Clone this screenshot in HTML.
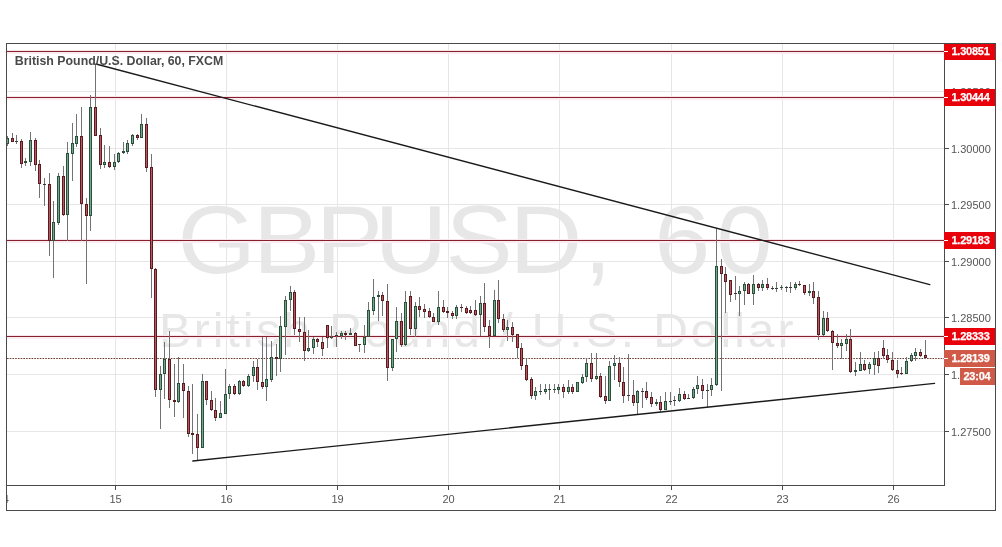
<!DOCTYPE html>
<html><head><meta charset="utf-8"><title>GBPUSD, 60</title>
<style>
html,body{margin:0;padding:0;background:#fff;width:1002px;height:547px;overflow:hidden;}
svg{display:block;}
</style></head><body>
<svg width="1002" height="547" viewBox="0 0 1002 547"><rect x="0" y="0" width="1002" height="547" fill="#ffffff"/><defs><clipPath id="pane"><rect x="7" y="44" width="937" height="441"/></clipPath></defs><g clip-path="url(#pane)"><text x="169.03 240.87 300.77 356.58 424.25 485.32 555.99 582.66 623.12 682.40" y="273.5" transform="scale(1.05,1)" font-family="Liberation Sans, Arial, sans-serif" font-size="96" fill="#e7e7e7">GBPUSD, 60</text><text x="158.9" y="347" font-family="Liberation Sans, Arial, sans-serif" font-size="48" fill="#e7e7e7" style="letter-spacing:2.96px">British Pound / U.S. Dollar</text><g shape-rendering="crispEdges"><rect x="115" y="44" width="1" height="441" fill="#e6e6e6"/><rect x="226" y="44" width="1" height="441" fill="#e6e6e6"/><rect x="337" y="44" width="1" height="441" fill="#e6e6e6"/><rect x="448" y="44" width="1" height="441" fill="#e6e6e6"/><rect x="559" y="44" width="1" height="441" fill="#e6e6e6"/><rect x="671" y="44" width="1" height="441" fill="#e6e6e6"/><rect x="782" y="44" width="1" height="441" fill="#e6e6e6"/><rect x="893" y="44" width="1" height="441" fill="#e6e6e6"/><rect x="7" y="91" width="937" height="1" fill="#e6e6e6"/><rect x="7" y="148" width="937" height="1" fill="#e6e6e6"/><rect x="7" y="204" width="937" height="1" fill="#e6e6e6"/><rect x="7" y="261" width="937" height="1" fill="#e6e6e6"/><rect x="7" y="317" width="937" height="1" fill="#e6e6e6"/><rect x="7" y="374" width="937" height="1" fill="#e6e6e6"/><rect x="7" y="431" width="937" height="1" fill="#e6e6e6"/></g><g shape-rendering="crispEdges"><rect x="7" y="50" width="937" height="1" fill="#f8e6e9"/><rect x="7" y="52" width="937" height="2" fill="#fbecef"/><rect x="7" y="51" width="937" height="1" fill="#86202f"/><rect x="7" y="96" width="937" height="1" fill="#f8e6e9"/><rect x="7" y="98" width="937" height="2" fill="#fbecef"/><rect x="7" y="97" width="937" height="1" fill="#86202f"/><rect x="7" y="239" width="937" height="1" fill="#f8e6e9"/><rect x="7" y="241" width="937" height="2" fill="#fbecef"/><rect x="7" y="240" width="937" height="1" fill="#86202f"/><rect x="7" y="335" width="937" height="1" fill="#f8e6e9"/><rect x="7" y="337" width="937" height="2" fill="#fbecef"/><rect x="7" y="336" width="937" height="1" fill="#86202f"/></g><line x1="7" y1="358.5" x2="944" y2="358.5" stroke="#6c3e33" stroke-width="1.1" stroke-dasharray="1.6 1.13"/><g shape-rendering="crispEdges"><rect x="7" y="136" width="1" height="10" fill="#737375"/><rect x="12" y="133" width="1" height="9" fill="#737375"/><rect x="16" y="135" width="1" height="9" fill="#737375"/><rect x="21" y="139" width="1" height="29" fill="#737375"/><rect x="25" y="158" width="1" height="8" fill="#737375"/><rect x="30" y="132" width="1" height="34" fill="#737375"/><rect x="35" y="138" width="1" height="33" fill="#737375"/><rect x="39" y="160" width="1" height="38" fill="#737375"/><rect x="44" y="178" width="1" height="28" fill="#737375"/><rect x="49" y="173" width="1" height="83" fill="#737375"/><rect x="53" y="201" width="1" height="77" fill="#737375"/><rect x="58" y="173" width="1" height="52" fill="#737375"/><rect x="63" y="166" width="1" height="50" fill="#737375"/><rect x="67" y="142" width="1" height="99" fill="#737375"/><rect x="72" y="123" width="1" height="58" fill="#737375"/><rect x="76" y="114" width="1" height="33" fill="#737375"/><rect x="81" y="107" width="1" height="134" fill="#737375"/><rect x="86" y="198" width="1" height="86" fill="#737375"/><rect x="90" y="95" width="1" height="136" fill="#737375"/><rect x="95" y="64" width="1" height="72" fill="#737375"/><rect x="100" y="128" width="1" height="41" fill="#737375"/><rect x="104" y="145" width="1" height="23" fill="#737375"/><rect x="109" y="146" width="1" height="22" fill="#737375"/><rect x="114" y="154" width="1" height="16" fill="#737375"/><rect x="118" y="152" width="1" height="11" fill="#737375"/><rect x="123" y="142" width="1" height="12" fill="#737375"/><rect x="127" y="140" width="1" height="14" fill="#737375"/><rect x="132" y="134" width="1" height="12" fill="#737375"/><rect x="137" y="134" width="1" height="6" fill="#737375"/><rect x="141" y="114" width="1" height="24" fill="#737375"/><rect x="146" y="118" width="1" height="54" fill="#737375"/><rect x="151" y="154" width="1" height="144" fill="#737375"/><rect x="155" y="268" width="1" height="129" fill="#737375"/><rect x="160" y="366" width="1" height="63" fill="#737375"/><rect x="164" y="342" width="1" height="57" fill="#737375"/><rect x="169" y="331" width="1" height="77" fill="#737375"/><rect x="174" y="364" width="1" height="53" fill="#737375"/><rect x="178" y="357" width="1" height="46" fill="#737375"/><rect x="183" y="364" width="1" height="54" fill="#737375"/><rect x="188" y="386" width="1" height="51" fill="#737375"/><rect x="192" y="384" width="1" height="70" fill="#737375"/><rect x="197" y="414" width="1" height="46" fill="#737375"/><rect x="202" y="374" width="1" height="74" fill="#737375"/><rect x="206" y="381" width="1" height="24" fill="#737375"/><rect x="211" y="391" width="1" height="20" fill="#737375"/><rect x="215" y="398" width="1" height="23" fill="#737375"/><rect x="220" y="401" width="1" height="17" fill="#737375"/><rect x="225" y="369" width="1" height="45" fill="#737375"/><rect x="229" y="384" width="1" height="15" fill="#737375"/><rect x="234" y="384" width="1" height="11" fill="#737375"/><rect x="239" y="380" width="1" height="15" fill="#737375"/><rect x="243" y="380" width="1" height="7" fill="#737375"/><rect x="248" y="374" width="1" height="13" fill="#737375"/><rect x="253" y="361" width="1" height="21" fill="#737375"/><rect x="257" y="359" width="1" height="31" fill="#737375"/><rect x="262" y="337" width="1" height="52" fill="#737375"/><rect x="266" y="337" width="1" height="64" fill="#737375"/><rect x="271" y="341" width="1" height="41" fill="#737375"/><rect x="276" y="344" width="1" height="32" fill="#737375"/><rect x="280" y="316" width="1" height="56" fill="#737375"/><rect x="285" y="296" width="1" height="59" fill="#737375"/><rect x="290" y="286" width="1" height="25" fill="#737375"/><rect x="294" y="290" width="1" height="45" fill="#737375"/><rect x="299" y="317" width="1" height="25" fill="#737375"/><rect x="304" y="317" width="1" height="44" fill="#737375"/><rect x="308" y="330" width="1" height="22" fill="#737375"/><rect x="313" y="337" width="1" height="17" fill="#737375"/><rect x="317" y="338" width="1" height="9" fill="#737375"/><rect x="322" y="337" width="1" height="19" fill="#737375"/><rect x="327" y="325" width="1" height="23" fill="#737375"/><rect x="331" y="326" width="1" height="13" fill="#737375"/><rect x="336" y="332" width="1" height="15" fill="#737375"/><rect x="341" y="331" width="1" height="8" fill="#737375"/><rect x="345" y="331" width="1" height="9" fill="#737375"/><rect x="350" y="328" width="1" height="7" fill="#737375"/><rect x="355" y="332" width="1" height="14" fill="#737375"/><rect x="359" y="344" width="1" height="8" fill="#737375"/><rect x="364" y="325" width="1" height="28" fill="#737375"/><rect x="368" y="302" width="1" height="35" fill="#737375"/><rect x="373" y="279" width="1" height="36" fill="#737375"/><rect x="378" y="291" width="1" height="30" fill="#737375"/><rect x="382" y="292" width="1" height="24" fill="#737375"/><rect x="387" y="284" width="1" height="97" fill="#737375"/><rect x="392" y="339" width="1" height="32" fill="#737375"/><rect x="396" y="307" width="1" height="45" fill="#737375"/><rect x="401" y="313" width="1" height="34" fill="#737375"/><rect x="405" y="291" width="1" height="55" fill="#737375"/><rect x="410" y="291" width="1" height="44" fill="#737375"/><rect x="415" y="302" width="1" height="35" fill="#737375"/><rect x="419" y="297" width="1" height="20" fill="#737375"/><rect x="424" y="304" width="1" height="14" fill="#737375"/><rect x="429" y="308" width="1" height="10" fill="#737375"/><rect x="433" y="313" width="1" height="9" fill="#737375"/><rect x="438" y="291" width="1" height="34" fill="#737375"/><rect x="443" y="300" width="1" height="13" fill="#737375"/><rect x="447" y="307" width="1" height="11" fill="#737375"/><rect x="452" y="311" width="1" height="8" fill="#737375"/><rect x="456" y="305" width="1" height="14" fill="#737375"/><rect x="461" y="304" width="1" height="8" fill="#737375"/><rect x="466" y="306" width="1" height="8" fill="#737375"/><rect x="470" y="306" width="1" height="8" fill="#737375"/><rect x="475" y="300" width="1" height="16" fill="#737375"/><rect x="480" y="296" width="1" height="40" fill="#737375"/><rect x="484" y="283" width="1" height="49" fill="#737375"/><rect x="489" y="320" width="1" height="28" fill="#737375"/><rect x="494" y="290" width="1" height="46" fill="#737375"/><rect x="498" y="280" width="1" height="43" fill="#737375"/><rect x="503" y="314" width="1" height="18" fill="#737375"/><rect x="507" y="320" width="1" height="21" fill="#737375"/><rect x="512" y="322" width="1" height="20" fill="#737375"/><rect x="517" y="334" width="1" height="24" fill="#737375"/><rect x="521" y="343" width="1" height="27" fill="#737375"/><rect x="526" y="358" width="1" height="23" fill="#737375"/><rect x="531" y="377" width="1" height="22" fill="#737375"/><rect x="535" y="387" width="1" height="13" fill="#737375"/><rect x="540" y="384" width="1" height="11" fill="#737375"/><rect x="545" y="384" width="1" height="10" fill="#737375"/><rect x="549" y="384" width="1" height="16" fill="#737375"/><rect x="554" y="384" width="1" height="9" fill="#737375"/><rect x="558" y="384" width="1" height="10" fill="#737375"/><rect x="563" y="384" width="1" height="14" fill="#737375"/><rect x="568" y="380" width="1" height="14" fill="#737375"/><rect x="572" y="384" width="1" height="10" fill="#737375"/><rect x="577" y="382" width="1" height="10" fill="#737375"/><rect x="582" y="374" width="1" height="10" fill="#737375"/><rect x="586" y="358" width="1" height="24" fill="#737375"/><rect x="591" y="353" width="1" height="29" fill="#737375"/><rect x="596" y="353" width="1" height="27" fill="#737375"/><rect x="600" y="373" width="1" height="25" fill="#737375"/><rect x="605" y="376" width="1" height="28" fill="#737375"/><rect x="609" y="361" width="1" height="40" fill="#737375"/><rect x="614" y="355" width="1" height="25" fill="#737375"/><rect x="619" y="357" width="1" height="30" fill="#737375"/><rect x="623" y="367" width="1" height="36" fill="#737375"/><rect x="628" y="354" width="1" height="47" fill="#737375"/><rect x="633" y="380" width="1" height="26" fill="#737375"/><rect x="637" y="390" width="1" height="25" fill="#737375"/><rect x="642" y="388" width="1" height="20" fill="#737375"/><rect x="646" y="382" width="1" height="18" fill="#737375"/><rect x="651" y="392" width="1" height="15" fill="#737375"/><rect x="656" y="399" width="1" height="7" fill="#737375"/><rect x="660" y="396" width="1" height="16" fill="#737375"/><rect x="665" y="392" width="1" height="18" fill="#737375"/><rect x="670" y="392" width="1" height="13" fill="#737375"/><rect x="674" y="396" width="1" height="10" fill="#737375"/><rect x="679" y="388" width="1" height="14" fill="#737375"/><rect x="684" y="391" width="1" height="9" fill="#737375"/><rect x="688" y="394" width="1" height="5" fill="#737375"/><rect x="693" y="387" width="1" height="12" fill="#737375"/><rect x="697" y="376" width="1" height="18" fill="#737375"/><rect x="702" y="379" width="1" height="20" fill="#737375"/><rect x="707" y="384" width="1" height="23" fill="#737375"/><rect x="711" y="378" width="1" height="18" fill="#737375"/><rect x="716" y="229" width="1" height="157" fill="#737375"/><rect x="721" y="259" width="1" height="132" fill="#737375"/><rect x="725" y="267" width="1" height="46" fill="#737375"/><rect x="730" y="280" width="1" height="22" fill="#737375"/><rect x="735" y="276" width="1" height="24" fill="#737375"/><rect x="739" y="286" width="1" height="30" fill="#737375"/><rect x="744" y="282" width="1" height="23" fill="#737375"/><rect x="748" y="283" width="1" height="11" fill="#737375"/><rect x="753" y="275" width="1" height="30" fill="#737375"/><rect x="758" y="283" width="1" height="8" fill="#737375"/><rect x="762" y="280" width="1" height="11" fill="#737375"/><rect x="767" y="278" width="1" height="12" fill="#737375"/><rect x="772" y="286" width="1" height="4" fill="#737375"/><rect x="776" y="282" width="1" height="10" fill="#737375"/><rect x="781" y="285" width="1" height="5" fill="#737375"/><rect x="786" y="286" width="1" height="6" fill="#737375"/><rect x="790" y="282" width="1" height="11" fill="#737375"/><rect x="795" y="282" width="1" height="8" fill="#737375"/><rect x="799" y="281" width="1" height="5" fill="#737375"/><rect x="804" y="285" width="1" height="10" fill="#737375"/><rect x="809" y="284" width="1" height="12" fill="#737375"/><rect x="813" y="282" width="1" height="22" fill="#737375"/><rect x="818" y="291" width="1" height="49" fill="#737375"/><rect x="823" y="311" width="1" height="25" fill="#737375"/><rect x="827" y="312" width="1" height="20" fill="#737375"/><rect x="832" y="330" width="1" height="40" fill="#737375"/><rect x="837" y="334" width="1" height="14" fill="#737375"/><rect x="841" y="339" width="1" height="20" fill="#737375"/><rect x="846" y="334" width="1" height="17" fill="#737375"/><rect x="850" y="329" width="1" height="44" fill="#737375"/><rect x="855" y="362" width="1" height="14" fill="#737375"/><rect x="860" y="352" width="1" height="19" fill="#737375"/><rect x="864" y="360" width="1" height="11" fill="#737375"/><rect x="869" y="362" width="1" height="12" fill="#737375"/><rect x="874" y="352" width="1" height="23" fill="#737375"/><rect x="878" y="351" width="1" height="22" fill="#737375"/><rect x="883" y="340" width="1" height="18" fill="#737375"/><rect x="887" y="349" width="1" height="14" fill="#737375"/><rect x="892" y="352" width="1" height="19" fill="#737375"/><rect x="897" y="360" width="1" height="18" fill="#737375"/><rect x="901" y="367" width="1" height="8" fill="#737375"/><rect x="906" y="357" width="1" height="17" fill="#737375"/><rect x="911" y="353" width="1" height="9" fill="#737375"/><rect x="915" y="348" width="1" height="13" fill="#737375"/><rect x="920" y="349" width="1" height="8" fill="#737375"/><rect x="925" y="340" width="1" height="19" fill="#737375"/><rect x="6" y="138" width="3" height="6" fill="#29503b"/><rect x="7" y="139" width="1" height="4" fill="#7aa58d"/><rect x="11" y="138" width="3" height="4" fill="#5a1a1e"/><rect x="12" y="139" width="1" height="2" fill="#b35a62"/><rect x="15" y="141" width="3" height="1" fill="#3a3a3a"/><rect x="20" y="141" width="3" height="23" fill="#5a1a1e"/><rect x="21" y="142" width="1" height="21" fill="#b35a62"/><rect x="24" y="161" width="3" height="2" fill="#29503b"/><rect x="29" y="140" width="3" height="22" fill="#29503b"/><rect x="30" y="141" width="1" height="20" fill="#7aa58d"/><rect x="34" y="140" width="3" height="25" fill="#5a1a1e"/><rect x="35" y="141" width="1" height="23" fill="#b35a62"/><rect x="38" y="164" width="3" height="20" fill="#5a1a1e"/><rect x="39" y="165" width="1" height="18" fill="#b35a62"/><rect x="43" y="184" width="3" height="1" fill="#3a3a3a"/><rect x="48" y="184" width="3" height="57" fill="#5a1a1e"/><rect x="49" y="185" width="1" height="55" fill="#b35a62"/><rect x="52" y="222" width="3" height="19" fill="#29503b"/><rect x="53" y="223" width="1" height="17" fill="#7aa58d"/><rect x="57" y="176" width="3" height="47" fill="#29503b"/><rect x="58" y="177" width="1" height="45" fill="#7aa58d"/><rect x="62" y="176" width="3" height="39" fill="#5a1a1e"/><rect x="63" y="177" width="1" height="37" fill="#b35a62"/><rect x="66" y="153" width="3" height="62" fill="#29503b"/><rect x="67" y="154" width="1" height="60" fill="#7aa58d"/><rect x="71" y="143" width="3" height="11" fill="#29503b"/><rect x="72" y="144" width="1" height="9" fill="#7aa58d"/><rect x="75" y="136" width="3" height="8" fill="#29503b"/><rect x="76" y="137" width="1" height="6" fill="#7aa58d"/><rect x="80" y="136" width="3" height="68" fill="#5a1a1e"/><rect x="81" y="137" width="1" height="66" fill="#b35a62"/><rect x="85" y="204" width="3" height="12" fill="#5a1a1e"/><rect x="86" y="205" width="1" height="10" fill="#b35a62"/><rect x="89" y="107" width="3" height="109" fill="#29503b"/><rect x="90" y="108" width="1" height="107" fill="#7aa58d"/><rect x="94" y="107" width="3" height="29" fill="#5a1a1e"/><rect x="95" y="108" width="1" height="27" fill="#b35a62"/><rect x="99" y="135" width="3" height="30" fill="#5a1a1e"/><rect x="100" y="136" width="1" height="28" fill="#b35a62"/><rect x="103" y="162" width="3" height="3" fill="#29503b"/><rect x="104" y="163" width="1" height="1" fill="#7aa58d"/><rect x="108" y="162" width="3" height="5" fill="#5a1a1e"/><rect x="109" y="163" width="1" height="3" fill="#b35a62"/><rect x="113" y="162" width="3" height="5" fill="#29503b"/><rect x="114" y="163" width="1" height="3" fill="#7aa58d"/><rect x="117" y="153" width="3" height="9" fill="#29503b"/><rect x="118" y="154" width="1" height="7" fill="#7aa58d"/><rect x="122" y="151" width="3" height="2" fill="#29503b"/><rect x="126" y="143" width="3" height="9" fill="#29503b"/><rect x="127" y="144" width="1" height="7" fill="#7aa58d"/><rect x="131" y="135" width="3" height="9" fill="#29503b"/><rect x="132" y="136" width="1" height="7" fill="#7aa58d"/><rect x="136" y="135" width="3" height="3" fill="#5a1a1e"/><rect x="137" y="136" width="1" height="1" fill="#b35a62"/><rect x="140" y="124" width="3" height="14" fill="#29503b"/><rect x="141" y="125" width="1" height="12" fill="#7aa58d"/><rect x="145" y="124" width="3" height="44" fill="#5a1a1e"/><rect x="146" y="125" width="1" height="42" fill="#b35a62"/><rect x="150" y="167" width="3" height="102" fill="#5a1a1e"/><rect x="151" y="168" width="1" height="100" fill="#b35a62"/><rect x="154" y="269" width="3" height="121" fill="#5a1a1e"/><rect x="155" y="270" width="1" height="119" fill="#b35a62"/><rect x="159" y="374" width="3" height="16" fill="#29503b"/><rect x="160" y="375" width="1" height="14" fill="#7aa58d"/><rect x="163" y="359" width="3" height="15" fill="#29503b"/><rect x="164" y="360" width="1" height="13" fill="#7aa58d"/><rect x="168" y="359" width="3" height="41" fill="#5a1a1e"/><rect x="169" y="360" width="1" height="39" fill="#b35a62"/><rect x="173" y="400" width="3" height="2" fill="#5a1a1e"/><rect x="177" y="383" width="3" height="19" fill="#29503b"/><rect x="178" y="384" width="1" height="17" fill="#7aa58d"/><rect x="182" y="383" width="3" height="8" fill="#5a1a1e"/><rect x="183" y="384" width="1" height="6" fill="#b35a62"/><rect x="187" y="391" width="3" height="43" fill="#5a1a1e"/><rect x="188" y="392" width="1" height="41" fill="#b35a62"/><rect x="191" y="433" width="3" height="2" fill="#5a1a1e"/><rect x="196" y="434" width="3" height="14" fill="#5a1a1e"/><rect x="197" y="435" width="1" height="12" fill="#b35a62"/><rect x="201" y="381" width="3" height="67" fill="#29503b"/><rect x="202" y="382" width="1" height="65" fill="#7aa58d"/><rect x="205" y="381" width="3" height="19" fill="#5a1a1e"/><rect x="206" y="382" width="1" height="17" fill="#b35a62"/><rect x="210" y="400" width="3" height="10" fill="#5a1a1e"/><rect x="211" y="401" width="1" height="8" fill="#b35a62"/><rect x="214" y="410" width="3" height="8" fill="#5a1a1e"/><rect x="215" y="411" width="1" height="6" fill="#b35a62"/><rect x="219" y="413" width="3" height="5" fill="#29503b"/><rect x="220" y="414" width="1" height="3" fill="#7aa58d"/><rect x="224" y="394" width="3" height="20" fill="#29503b"/><rect x="225" y="395" width="1" height="18" fill="#7aa58d"/><rect x="228" y="386" width="3" height="8" fill="#29503b"/><rect x="229" y="387" width="1" height="6" fill="#7aa58d"/><rect x="233" y="386" width="3" height="8" fill="#5a1a1e"/><rect x="234" y="387" width="1" height="6" fill="#b35a62"/><rect x="238" y="381" width="3" height="13" fill="#29503b"/><rect x="239" y="382" width="1" height="11" fill="#7aa58d"/><rect x="242" y="381" width="3" height="5" fill="#5a1a1e"/><rect x="243" y="382" width="1" height="3" fill="#b35a62"/><rect x="247" y="376" width="3" height="10" fill="#29503b"/><rect x="248" y="377" width="1" height="8" fill="#7aa58d"/><rect x="252" y="367" width="3" height="9" fill="#29503b"/><rect x="253" y="368" width="1" height="7" fill="#7aa58d"/><rect x="256" y="367" width="3" height="15" fill="#5a1a1e"/><rect x="257" y="368" width="1" height="13" fill="#b35a62"/><rect x="261" y="382" width="3" height="5" fill="#5a1a1e"/><rect x="262" y="383" width="1" height="3" fill="#b35a62"/><rect x="265" y="379" width="3" height="8" fill="#29503b"/><rect x="266" y="380" width="1" height="6" fill="#7aa58d"/><rect x="270" y="357" width="3" height="23" fill="#29503b"/><rect x="271" y="358" width="1" height="21" fill="#7aa58d"/><rect x="275" y="357" width="3" height="2" fill="#5a1a1e"/><rect x="279" y="326" width="3" height="33" fill="#29503b"/><rect x="280" y="327" width="1" height="31" fill="#7aa58d"/><rect x="284" y="300" width="3" height="27" fill="#29503b"/><rect x="285" y="301" width="1" height="25" fill="#7aa58d"/><rect x="289" y="292" width="3" height="8" fill="#29503b"/><rect x="290" y="293" width="1" height="6" fill="#7aa58d"/><rect x="293" y="292" width="3" height="37" fill="#5a1a1e"/><rect x="294" y="293" width="1" height="35" fill="#b35a62"/><rect x="298" y="329" width="3" height="3" fill="#5a1a1e"/><rect x="299" y="330" width="1" height="1" fill="#b35a62"/><rect x="303" y="332" width="3" height="19" fill="#5a1a1e"/><rect x="304" y="333" width="1" height="17" fill="#b35a62"/><rect x="307" y="348" width="3" height="3" fill="#29503b"/><rect x="308" y="349" width="1" height="1" fill="#7aa58d"/><rect x="312" y="339" width="3" height="9" fill="#29503b"/><rect x="313" y="340" width="1" height="7" fill="#7aa58d"/><rect x="316" y="339" width="3" height="3" fill="#5a1a1e"/><rect x="317" y="340" width="1" height="1" fill="#b35a62"/><rect x="321" y="342" width="3" height="7" fill="#5a1a1e"/><rect x="322" y="343" width="1" height="5" fill="#b35a62"/><rect x="326" y="325" width="3" height="13" fill="#5a1a1e"/><rect x="327" y="326" width="1" height="11" fill="#b35a62"/><rect x="330" y="337" width="3" height="1" fill="#29503b"/><rect x="335" y="335" width="3" height="1" fill="#3a3a3a"/><rect x="340" y="333" width="3" height="3" fill="#29503b"/><rect x="341" y="334" width="1" height="1" fill="#7aa58d"/><rect x="344" y="333" width="3" height="2" fill="#5a1a1e"/><rect x="349" y="333" width="3" height="2" fill="#29503b"/><rect x="354" y="333" width="3" height="13" fill="#5a1a1e"/><rect x="355" y="334" width="1" height="11" fill="#b35a62"/><rect x="358" y="344" width="3" height="1" fill="#3a3a3a"/><rect x="363" y="337" width="3" height="8" fill="#29503b"/><rect x="364" y="338" width="1" height="6" fill="#7aa58d"/><rect x="367" y="310" width="3" height="27" fill="#29503b"/><rect x="368" y="311" width="1" height="25" fill="#7aa58d"/><rect x="372" y="297" width="3" height="14" fill="#29503b"/><rect x="373" y="298" width="1" height="12" fill="#7aa58d"/><rect x="377" y="295" width="3" height="2" fill="#29503b"/><rect x="381" y="295" width="3" height="6" fill="#5a1a1e"/><rect x="382" y="296" width="1" height="4" fill="#b35a62"/><rect x="386" y="301" width="3" height="67" fill="#5a1a1e"/><rect x="387" y="302" width="1" height="65" fill="#b35a62"/><rect x="391" y="339" width="3" height="29" fill="#29503b"/><rect x="392" y="340" width="1" height="27" fill="#7aa58d"/><rect x="395" y="321" width="3" height="18" fill="#29503b"/><rect x="396" y="322" width="1" height="16" fill="#7aa58d"/><rect x="400" y="321" width="3" height="24" fill="#5a1a1e"/><rect x="401" y="322" width="1" height="22" fill="#b35a62"/><rect x="404" y="302" width="3" height="43" fill="#29503b"/><rect x="405" y="303" width="1" height="41" fill="#7aa58d"/><rect x="409" y="296" width="3" height="33" fill="#5a1a1e"/><rect x="410" y="297" width="1" height="31" fill="#b35a62"/><rect x="414" y="306" width="3" height="23" fill="#29503b"/><rect x="415" y="307" width="1" height="21" fill="#7aa58d"/><rect x="418" y="306" width="3" height="4" fill="#5a1a1e"/><rect x="419" y="307" width="1" height="2" fill="#b35a62"/><rect x="423" y="309" width="3" height="3" fill="#5a1a1e"/><rect x="424" y="310" width="1" height="1" fill="#b35a62"/><rect x="428" y="311" width="3" height="6" fill="#5a1a1e"/><rect x="429" y="312" width="1" height="4" fill="#b35a62"/><rect x="432" y="317" width="3" height="5" fill="#5a1a1e"/><rect x="433" y="318" width="1" height="3" fill="#b35a62"/><rect x="437" y="307" width="3" height="15" fill="#29503b"/><rect x="438" y="308" width="1" height="13" fill="#7aa58d"/><rect x="442" y="307" width="3" height="5" fill="#5a1a1e"/><rect x="443" y="308" width="1" height="3" fill="#b35a62"/><rect x="446" y="311" width="3" height="2" fill="#5a1a1e"/><rect x="451" y="313" width="3" height="3" fill="#5a1a1e"/><rect x="452" y="314" width="1" height="1" fill="#b35a62"/><rect x="455" y="307" width="3" height="9" fill="#29503b"/><rect x="456" y="308" width="1" height="7" fill="#7aa58d"/><rect x="460" y="307" width="3" height="1" fill="#5a1a1e"/><rect x="465" y="308" width="3" height="5" fill="#5a1a1e"/><rect x="466" y="309" width="1" height="3" fill="#b35a62"/><rect x="469" y="310" width="3" height="3" fill="#5a1a1e"/><rect x="470" y="311" width="1" height="1" fill="#b35a62"/><rect x="474" y="310" width="3" height="5" fill="#5a1a1e"/><rect x="475" y="311" width="1" height="3" fill="#b35a62"/><rect x="479" y="303" width="3" height="12" fill="#29503b"/><rect x="480" y="304" width="1" height="10" fill="#7aa58d"/><rect x="483" y="303" width="3" height="24" fill="#5a1a1e"/><rect x="484" y="304" width="1" height="22" fill="#b35a62"/><rect x="488" y="326" width="3" height="10" fill="#5a1a1e"/><rect x="489" y="327" width="1" height="8" fill="#b35a62"/><rect x="493" y="300" width="3" height="36" fill="#29503b"/><rect x="494" y="301" width="1" height="34" fill="#7aa58d"/><rect x="497" y="300" width="3" height="19" fill="#5a1a1e"/><rect x="498" y="301" width="1" height="17" fill="#b35a62"/><rect x="502" y="319" width="3" height="11" fill="#5a1a1e"/><rect x="503" y="320" width="1" height="9" fill="#b35a62"/><rect x="506" y="327" width="3" height="3" fill="#29503b"/><rect x="507" y="328" width="1" height="1" fill="#7aa58d"/><rect x="511" y="327" width="3" height="8" fill="#5a1a1e"/><rect x="512" y="328" width="1" height="6" fill="#b35a62"/><rect x="516" y="334" width="3" height="14" fill="#5a1a1e"/><rect x="517" y="335" width="1" height="12" fill="#b35a62"/><rect x="520" y="348" width="3" height="18" fill="#5a1a1e"/><rect x="521" y="349" width="1" height="16" fill="#b35a62"/><rect x="525" y="365" width="3" height="15" fill="#5a1a1e"/><rect x="526" y="366" width="1" height="13" fill="#b35a62"/><rect x="530" y="379" width="3" height="17" fill="#5a1a1e"/><rect x="531" y="380" width="1" height="15" fill="#b35a62"/><rect x="534" y="391" width="3" height="5" fill="#29503b"/><rect x="535" y="392" width="1" height="3" fill="#7aa58d"/><rect x="539" y="391" width="3" height="1" fill="#3a3a3a"/><rect x="544" y="389" width="3" height="3" fill="#29503b"/><rect x="545" y="390" width="1" height="1" fill="#7aa58d"/><rect x="548" y="389" width="3" height="1" fill="#3a3a3a"/><rect x="553" y="389" width="3" height="1" fill="#29503b"/><rect x="557" y="387" width="3" height="3" fill="#29503b"/><rect x="558" y="388" width="1" height="1" fill="#7aa58d"/><rect x="562" y="387" width="3" height="5" fill="#5a1a1e"/><rect x="563" y="388" width="1" height="3" fill="#b35a62"/><rect x="567" y="387" width="3" height="5" fill="#29503b"/><rect x="568" y="388" width="1" height="3" fill="#7aa58d"/><rect x="571" y="387" width="3" height="5" fill="#5a1a1e"/><rect x="572" y="388" width="1" height="3" fill="#b35a62"/><rect x="576" y="382" width="3" height="10" fill="#29503b"/><rect x="577" y="383" width="1" height="8" fill="#7aa58d"/><rect x="581" y="377" width="3" height="6" fill="#29503b"/><rect x="582" y="378" width="1" height="4" fill="#7aa58d"/><rect x="585" y="363" width="3" height="14" fill="#29503b"/><rect x="586" y="364" width="1" height="12" fill="#7aa58d"/><rect x="590" y="363" width="3" height="16" fill="#5a1a1e"/><rect x="591" y="364" width="1" height="14" fill="#b35a62"/><rect x="595" y="376" width="3" height="3" fill="#29503b"/><rect x="596" y="377" width="1" height="1" fill="#7aa58d"/><rect x="599" y="376" width="3" height="21" fill="#5a1a1e"/><rect x="600" y="377" width="1" height="19" fill="#b35a62"/><rect x="604" y="396" width="3" height="5" fill="#5a1a1e"/><rect x="605" y="397" width="1" height="3" fill="#b35a62"/><rect x="608" y="366" width="3" height="35" fill="#29503b"/><rect x="609" y="367" width="1" height="33" fill="#7aa58d"/><rect x="613" y="363" width="3" height="3" fill="#29503b"/><rect x="614" y="364" width="1" height="1" fill="#7aa58d"/><rect x="618" y="363" width="3" height="19" fill="#5a1a1e"/><rect x="619" y="364" width="1" height="17" fill="#b35a62"/><rect x="622" y="382" width="3" height="14" fill="#5a1a1e"/><rect x="623" y="383" width="1" height="12" fill="#b35a62"/><rect x="627" y="395" width="3" height="1" fill="#3a3a3a"/><rect x="632" y="395" width="3" height="8" fill="#5a1a1e"/><rect x="633" y="396" width="1" height="6" fill="#b35a62"/><rect x="636" y="391" width="3" height="12" fill="#29503b"/><rect x="637" y="392" width="1" height="10" fill="#7aa58d"/><rect x="641" y="391" width="3" height="1" fill="#3a3a3a"/><rect x="645" y="391" width="3" height="7" fill="#5a1a1e"/><rect x="646" y="392" width="1" height="5" fill="#b35a62"/><rect x="650" y="397" width="3" height="7" fill="#5a1a1e"/><rect x="651" y="398" width="1" height="5" fill="#b35a62"/><rect x="655" y="402" width="3" height="2" fill="#29503b"/><rect x="659" y="402" width="3" height="8" fill="#5a1a1e"/><rect x="660" y="403" width="1" height="6" fill="#b35a62"/><rect x="664" y="401" width="3" height="9" fill="#29503b"/><rect x="665" y="402" width="1" height="7" fill="#7aa58d"/><rect x="669" y="401" width="3" height="1" fill="#3a3a3a"/><rect x="673" y="400" width="3" height="1" fill="#3a3a3a"/><rect x="678" y="394" width="3" height="7" fill="#29503b"/><rect x="679" y="395" width="1" height="5" fill="#7aa58d"/><rect x="683" y="394" width="3" height="5" fill="#5a1a1e"/><rect x="684" y="395" width="1" height="3" fill="#b35a62"/><rect x="687" y="398" width="3" height="1" fill="#3a3a3a"/><rect x="692" y="389" width="3" height="9" fill="#29503b"/><rect x="693" y="390" width="1" height="7" fill="#7aa58d"/><rect x="696" y="385" width="3" height="4" fill="#29503b"/><rect x="697" y="386" width="1" height="2" fill="#7aa58d"/><rect x="701" y="385" width="3" height="6" fill="#5a1a1e"/><rect x="702" y="386" width="1" height="4" fill="#b35a62"/><rect x="706" y="390" width="3" height="1" fill="#3a3a3a"/><rect x="710" y="385" width="3" height="5" fill="#29503b"/><rect x="711" y="386" width="1" height="3" fill="#7aa58d"/><rect x="715" y="266" width="3" height="119" fill="#29503b"/><rect x="716" y="267" width="1" height="117" fill="#7aa58d"/><rect x="720" y="266" width="3" height="8" fill="#5a1a1e"/><rect x="721" y="267" width="1" height="6" fill="#b35a62"/><rect x="724" y="274" width="3" height="8" fill="#5a1a1e"/><rect x="725" y="275" width="1" height="6" fill="#b35a62"/><rect x="729" y="280" width="3" height="15" fill="#5a1a1e"/><rect x="730" y="281" width="1" height="13" fill="#b35a62"/><rect x="734" y="293" width="3" height="1" fill="#3a3a3a"/><rect x="738" y="291" width="3" height="3" fill="#29503b"/><rect x="739" y="292" width="1" height="1" fill="#7aa58d"/><rect x="743" y="284" width="3" height="7" fill="#29503b"/><rect x="744" y="285" width="1" height="5" fill="#7aa58d"/><rect x="747" y="284" width="3" height="10" fill="#5a1a1e"/><rect x="748" y="285" width="1" height="8" fill="#b35a62"/><rect x="752" y="284" width="3" height="10" fill="#29503b"/><rect x="753" y="285" width="1" height="8" fill="#7aa58d"/><rect x="757" y="284" width="3" height="4" fill="#5a1a1e"/><rect x="758" y="285" width="1" height="2" fill="#b35a62"/><rect x="761" y="284" width="3" height="4" fill="#29503b"/><rect x="762" y="285" width="1" height="2" fill="#7aa58d"/><rect x="766" y="284" width="3" height="4" fill="#5a1a1e"/><rect x="767" y="285" width="1" height="2" fill="#b35a62"/><rect x="771" y="288" width="3" height="1" fill="#3a3a3a"/><rect x="775" y="288" width="3" height="1" fill="#3a3a3a"/><rect x="780" y="287" width="3" height="1" fill="#29503b"/><rect x="785" y="287" width="3" height="1" fill="#3a3a3a"/><rect x="789" y="287" width="3" height="1" fill="#3a3a3a"/><rect x="794" y="284" width="3" height="4" fill="#29503b"/><rect x="795" y="285" width="1" height="2" fill="#7aa58d"/><rect x="798" y="284" width="3" height="1" fill="#5a1a1e"/><rect x="803" y="285" width="3" height="8" fill="#5a1a1e"/><rect x="804" y="286" width="1" height="6" fill="#b35a62"/><rect x="808" y="291" width="3" height="2" fill="#29503b"/><rect x="812" y="291" width="3" height="7" fill="#5a1a1e"/><rect x="813" y="292" width="1" height="5" fill="#b35a62"/><rect x="817" y="297" width="3" height="38" fill="#5a1a1e"/><rect x="818" y="298" width="1" height="36" fill="#b35a62"/><rect x="822" y="318" width="3" height="17" fill="#29503b"/><rect x="823" y="319" width="1" height="15" fill="#7aa58d"/><rect x="826" y="318" width="3" height="13" fill="#5a1a1e"/><rect x="827" y="319" width="1" height="11" fill="#b35a62"/><rect x="831" y="331" width="3" height="12" fill="#5a1a1e"/><rect x="832" y="332" width="1" height="10" fill="#b35a62"/><rect x="836" y="343" width="3" height="3" fill="#5a1a1e"/><rect x="837" y="344" width="1" height="1" fill="#b35a62"/><rect x="840" y="343" width="3" height="3" fill="#29503b"/><rect x="841" y="344" width="1" height="1" fill="#7aa58d"/><rect x="845" y="339" width="3" height="5" fill="#29503b"/><rect x="846" y="340" width="1" height="3" fill="#7aa58d"/><rect x="849" y="339" width="3" height="33" fill="#5a1a1e"/><rect x="850" y="340" width="1" height="31" fill="#b35a62"/><rect x="854" y="370" width="3" height="2" fill="#29503b"/><rect x="859" y="364" width="3" height="7" fill="#29503b"/><rect x="860" y="365" width="1" height="5" fill="#7aa58d"/><rect x="863" y="364" width="3" height="6" fill="#5a1a1e"/><rect x="864" y="365" width="1" height="4" fill="#b35a62"/><rect x="868" y="364" width="3" height="5" fill="#29503b"/><rect x="869" y="365" width="1" height="3" fill="#7aa58d"/><rect x="873" y="358" width="3" height="7" fill="#29503b"/><rect x="874" y="359" width="1" height="5" fill="#7aa58d"/><rect x="877" y="358" width="3" height="8" fill="#5a1a1e"/><rect x="878" y="359" width="1" height="6" fill="#b35a62"/><rect x="882" y="348" width="3" height="8" fill="#5a1a1e"/><rect x="883" y="349" width="1" height="6" fill="#b35a62"/><rect x="886" y="355" width="3" height="5" fill="#5a1a1e"/><rect x="887" y="356" width="1" height="3" fill="#b35a62"/><rect x="891" y="360" width="3" height="10" fill="#5a1a1e"/><rect x="892" y="361" width="1" height="8" fill="#b35a62"/><rect x="896" y="370" width="3" height="4" fill="#5a1a1e"/><rect x="897" y="371" width="1" height="2" fill="#b35a62"/><rect x="900" y="373" width="3" height="1" fill="#5a1a1e"/><rect x="905" y="361" width="3" height="13" fill="#29503b"/><rect x="906" y="362" width="1" height="11" fill="#7aa58d"/><rect x="910" y="355" width="3" height="6" fill="#29503b"/><rect x="911" y="356" width="1" height="4" fill="#7aa58d"/><rect x="914" y="352" width="3" height="4" fill="#29503b"/><rect x="915" y="353" width="1" height="2" fill="#7aa58d"/><rect x="919" y="352" width="3" height="4" fill="#5a1a1e"/><rect x="920" y="353" width="1" height="2" fill="#b35a62"/><rect x="924" y="355" width="3" height="3" fill="#5a1a1e"/><rect x="925" y="356" width="1" height="1" fill="#b35a62"/></g><line x1="96" y1="64" x2="929.8" y2="284.6" stroke="#1a1a1a" stroke-width="1.35" stroke-linecap="round"/><line x1="192.8" y1="461" x2="934.5" y2="383.4" stroke="#1a1a1a" stroke-width="1.35" stroke-linecap="round"/></g><text x="14.8" y="65.2" font-family="Liberation Sans, Arial, sans-serif" font-size="12.35" font-weight="bold" fill="#4a4a4a">British Pound/U.S. Dollar, 60, FXCM</text><g shape-rendering="crispEdges"><rect x="6" y="43" width="990" height="1" fill="#4a4a4a"/><rect x="6" y="510" width="990" height="1" fill="#4a4a4a"/><rect x="6" y="43" width="1" height="468" fill="#4a4a4a"/><rect x="995" y="43" width="1" height="468" fill="#4a4a4a"/><rect x="944" y="43" width="1" height="443" fill="#4a4a4a"/><rect x="6" y="485" width="939" height="1" fill="#4a4a4a"/><rect x="115" y="486" width="1" height="4" fill="#4a4a4a"/><rect x="226" y="486" width="1" height="4" fill="#4a4a4a"/><rect x="337" y="486" width="1" height="4" fill="#4a4a4a"/><rect x="448" y="486" width="1" height="4" fill="#4a4a4a"/><rect x="559" y="486" width="1" height="4" fill="#4a4a4a"/><rect x="671" y="486" width="1" height="4" fill="#4a4a4a"/><rect x="782" y="486" width="1" height="4" fill="#4a4a4a"/><rect x="893" y="486" width="1" height="4" fill="#4a4a4a"/><rect x="945" y="91" width="4" height="1" fill="#4a4a4a"/><rect x="945" y="148" width="4" height="1" fill="#4a4a4a"/><rect x="945" y="204" width="4" height="1" fill="#4a4a4a"/><rect x="945" y="261" width="4" height="1" fill="#4a4a4a"/><rect x="945" y="317" width="4" height="1" fill="#4a4a4a"/><rect x="945" y="374" width="4" height="1" fill="#4a4a4a"/><rect x="945" y="431" width="4" height="1" fill="#4a4a4a"/></g><text x="951" y="95.5" font-family="Liberation Sans, Arial, sans-serif" font-size="11" fill="#555555">1.30500</text><text x="951" y="152.5" font-family="Liberation Sans, Arial, sans-serif" font-size="11" fill="#555555">1.30000</text><text x="951" y="208.5" font-family="Liberation Sans, Arial, sans-serif" font-size="11" fill="#555555">1.29500</text><text x="951" y="265.5" font-family="Liberation Sans, Arial, sans-serif" font-size="11" fill="#555555">1.29000</text><text x="951" y="321.5" font-family="Liberation Sans, Arial, sans-serif" font-size="11" fill="#555555">1.28500</text><text x="951" y="378.5" font-family="Liberation Sans, Arial, sans-serif" font-size="11" fill="#555555">1.28000</text><text x="951" y="435.5" font-family="Liberation Sans, Arial, sans-serif" font-size="11" fill="#555555">1.27500</text><text x="115.5" y="502.5" text-anchor="middle" font-family="Liberation Sans, Arial, sans-serif" font-size="11" fill="#555555">15</text><text x="226.5" y="502.5" text-anchor="middle" font-family="Liberation Sans, Arial, sans-serif" font-size="11" fill="#555555">16</text><text x="337.5" y="502.5" text-anchor="middle" font-family="Liberation Sans, Arial, sans-serif" font-size="11" fill="#555555">19</text><text x="448.5" y="502.5" text-anchor="middle" font-family="Liberation Sans, Arial, sans-serif" font-size="11" fill="#555555">20</text><text x="559.5" y="502.5" text-anchor="middle" font-family="Liberation Sans, Arial, sans-serif" font-size="11" fill="#555555">21</text><text x="671.5" y="502.5" text-anchor="middle" font-family="Liberation Sans, Arial, sans-serif" font-size="11" fill="#555555">22</text><text x="782.5" y="502.5" text-anchor="middle" font-family="Liberation Sans, Arial, sans-serif" font-size="11" fill="#555555">23</text><text x="893.5" y="502.5" text-anchor="middle" font-family="Liberation Sans, Arial, sans-serif" font-size="11" fill="#555555">26</text><text x="2.8" y="502.5" text-anchor="middle" font-family="Liberation Sans, Arial, sans-serif" font-size="11" fill="#555555">14</text><rect x="0" y="486" width="7" height="24" fill="#ffffff"/><rect x="6" y="43" width="1" height="468" fill="#4a4a4a" shape-rendering="crispEdges"/><rect x="944" y="43" width="51" height="17" fill="#e8000b" shape-rendering="crispEdges"/><rect x="944" y="51" width="4" height="1" fill="#ffffff" shape-rendering="crispEdges"/><text x="951.5" y="55" font-family="Liberation Sans, Arial, sans-serif" font-size="11" font-weight="bold" style="letter-spacing:-0.25px" stroke="#ffffff" stroke-width="0.25" fill="#ffffff">1.30851</text><rect x="944" y="89" width="51" height="17" fill="#e8000b" shape-rendering="crispEdges"/><rect x="944" y="97" width="4" height="1" fill="#ffffff" shape-rendering="crispEdges"/><text x="951.5" y="101" font-family="Liberation Sans, Arial, sans-serif" font-size="11" font-weight="bold" style="letter-spacing:-0.25px" stroke="#ffffff" stroke-width="0.25" fill="#ffffff">1.30444</text><rect x="944" y="232" width="51" height="17" fill="#e8000b" shape-rendering="crispEdges"/><rect x="944" y="240" width="4" height="1" fill="#ffffff" shape-rendering="crispEdges"/><text x="951.5" y="244" font-family="Liberation Sans, Arial, sans-serif" font-size="11" font-weight="bold" style="letter-spacing:-0.25px" stroke="#ffffff" stroke-width="0.25" fill="#ffffff">1.29183</text><rect x="944" y="328" width="51" height="17" fill="#e8000b" shape-rendering="crispEdges"/><rect x="944" y="336" width="4" height="1" fill="#ffffff" shape-rendering="crispEdges"/><text x="951.5" y="340" font-family="Liberation Sans, Arial, sans-serif" font-size="11" font-weight="bold" style="letter-spacing:-0.25px" stroke="#ffffff" stroke-width="0.25" fill="#ffffff">1.28333</text><rect x="944" y="350" width="51" height="17" fill="#d05a48" shape-rendering="crispEdges"/><rect x="944" y="358" width="4" height="1" fill="#ffffff" shape-rendering="crispEdges"/><text x="951.5" y="362" font-family="Liberation Sans, Arial, sans-serif" font-size="11" font-weight="bold" style="letter-spacing:-0.25px" stroke="#ffffff" stroke-width="0.25" fill="#ffffff">1.28139</text><rect x="960" y="368" width="35" height="17" fill="#d05a48" shape-rendering="crispEdges"/><text x="963.5" y="379.5" font-family="Liberation Sans, Arial, sans-serif" font-size="11" font-weight="bold" style="letter-spacing:-0.25px" stroke="#ffffff" stroke-width="0.25" fill="#ffffff">23:04</text><g shape-rendering="crispEdges"><rect x="6" y="43" width="990" height="1" fill="#4a4a4a"/><rect x="995" y="43" width="1" height="468" fill="#4a4a4a"/></g></svg>
</body></html>
